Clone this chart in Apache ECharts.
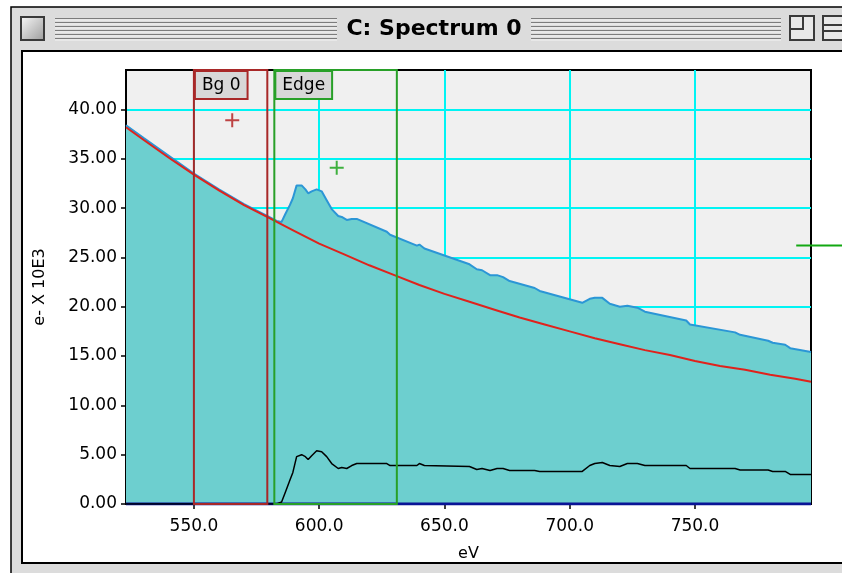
<!DOCTYPE html>
<html>
<head>
<meta charset="utf-8">
<script src="https://cdn.jsdelivr.net/npm/echarts@6/dist/echarts.min.js"></script>
<style>
    html, body {margin: 0; padding: 0; background: #fff;}
    #main {width: 842px; height: 573px;}
</style>
</head>
<body>
<div id="main"></div>
<script>
// energy loss, eV  /  counts in e- x 10E3
const bg_ev = [522.9, 530, 540, 550, 560, 570, 580, 590, 600, 610, 620, 630, 640, 650, 660, 670, 680, 690,
    700, 710, 720, 730, 740, 750, 760, 770, 780, 790, 796.3]
const bg_counts = [38.2, 36.9, 35.1, 33.4, 31.8, 30.3, 29.0, 27.7, 26.4, 25.3, 24.2, 23.2, 22.2, 21.3, 20.5, 19.7,
    18.9, 18.2, 17.5, 16.8, 16.2, 15.6, 15.1, 14.5, 14.0, 13.6, 13.1, 12.7, 12.4]

const spec_ev = [522.9, 530, 540, 550, 560, 570, 580, 583, 585, 586.5, 588.3, 589.5, 591, 593, 594.5, 595.6, 597,
    599, 601, 603, 605, 607.6, 609, 611, 613, 615, 627, 628.3, 639, 640, 642, 660, 662.9, 665, 668.2, 671, 673.4,
    676, 686, 688, 705, 708, 710, 713, 716, 720, 723, 727, 730, 746.5, 748, 766, 768, 779.2, 781, 786, 788, 796.3]
const spec_counts = [38.4, 37.1, 35.3, 33.5, 31.9, 30.4, 29.1, 28.7, 28.6, 29.4, 30.3, 31.0, 32.3, 32.3, 31.9, 31.5,
    31.7, 31.9, 31.7, 30.8, 29.9, 29.2, 29.1, 28.8, 28.9, 28.9, 27.6, 27.3, 26.2, 26.3, 25.9, 24.3, 23.8, 23.7, 23.2,
    23.2, 23.0, 22.6, 21.9, 21.6, 20.4, 20.8, 20.9, 20.9, 20.3, 20.0, 20.1, 19.9, 19.5, 18.6, 18.2, 17.4, 17.15,
    16.55, 16.35, 16.15, 15.8, 15.4]

const edge_ev = [522.9, 583, 585, 586.5, 588.3, 589.5, 591, 593, 594.5, 595.6, 597, 599, 601, 603, 605, 607.6, 609,
    611, 613, 615, 627, 628.3, 639, 640, 642, 660, 662.9, 665, 668.2, 671, 673.4, 676, 686, 688, 705, 708, 710, 713,
    716, 720, 723, 727, 730, 746.5, 748, 766, 768, 779.2, 781, 786, 788, 796.3]
const edge_counts = [0, 0, 0.2, 1.2, 2.4, 3.2, 4.8, 5.0, 4.8, 4.5, 4.9, 5.4, 5.3, 4.8, 4.1, 3.6, 3.7, 3.6, 3.9, 4.1,
    4.1, 3.9, 3.9, 4.1, 3.9, 3.8, 3.5, 3.6, 3.4, 3.6, 3.6, 3.4, 3.4, 3.3, 3.3, 3.9, 4.1, 4.2, 3.9, 3.8, 4.1, 4.1, 3.9,
    3.9, 3.6, 3.6, 3.45, 3.45, 3.3, 3.3, 3.0, 3.0]

const base_ev = [522.9, 796.3]
const base_counts = [0, 0]

const bg_window = [550.0, 579.3]
const edge_window = [582.1, 631.0]
const bg_cross = [565.3, 38.9]
const edge_cross = [607.0, 34.1]
const side_marker_ev = [790.4, 812.0]
const side_marker_count = 26.2

const x_ticks = [550, 600, 650, 700, 750]
const y_ticks = [0, 5, 10, 15, 20, 25, 30, 35, 40]
const x_range = [522.9, 796.3]
const y_range = [0, 44]

const zip = (xs, ys) => xs.map((x, i) => [x, ys[i]])

const FONT = 'DejaVu Sans'
const CROSS = 'path://M6,0h2v14h-2zM0,6h14v2h-14z'

// window frame of the old mac
const stripes = []
;[18.5, 22.5, 26.5, 30.5, 34.5, 38.5].forEach(y => {
    [[55, 337], [531, 781]].forEach(([a, b]) => {
        stripes.push({type: 'line', z: -10, shape: {x1: a, y1: y, x2: b, y2: y}, style: {stroke: '#7c7c7c', lineWidth: 1}})
        stripes.push({type: 'line', z: -10, shape: {x1: a, y1: y + 1.5, x2: b, y2: y + 1.5}, style: {stroke: '#f4f4f4', lineWidth: 1}})
    })
})

const chrome = [
    {type: 'rect', z: -12, shape: {x: 11, y: 7, width: 840, height: 580}, style: {fill: '#dcdcdc', stroke: '#000', lineWidth: 1.5}},
    {type: 'rect', z: -11, shape: {x: 22, y: 51, width: 830, height: 512}, style: {fill: '#fff', stroke: '#000', lineWidth: 2}},
    ...stripes,
    {type: 'rect', z: -10, shape: {x: 21, y: 17, width: 23, height: 23}, style: {
        fill: new echarts.graphic.LinearGradient(0, 0, 1, 1, [{offset: 0, color: '#fafafa'}, {offset: 1, color: '#9a9a9a'}]),
        stroke: '#3a3a3a', lineWidth: 2}},
    {type: 'rect', z: -10, shape: {x: 790, y: 16, width: 24, height: 24}, style: {fill: '#e8e8e8', stroke: '#3a3a3a', lineWidth: 2}},
    {type: 'polyline', z: -10, shape: {points: [[803, 16], [803, 29], [790, 29]]}, style: {stroke: '#3a3a3a', lineWidth: 2, fill: null}},
    {type: 'rect', z: -10, shape: {x: 823, y: 16, width: 24, height: 24}, style: {fill: '#e8e8e8', stroke: '#3a3a3a', lineWidth: 2}},
    {type: 'line', z: -10, shape: {x1: 823, y1: 25, x2: 847, y2: 25}, style: {stroke: '#3a3a3a', lineWidth: 2}},
    {type: 'line', z: -10, shape: {x1: 823, y1: 31, x2: 847, y2: 31}, style: {stroke: '#3a3a3a', lineWidth: 2}},
    {type: 'text', z: -9, x: 434, y: 29, style: {
        text: 'C: Spectrum 0', fill: '#000', font: 'bold 22px "DejaVu Sans"', align: 'center', verticalAlign: 'middle'}},
]

const window_style = (color) => ({
    itemStyle: {color: 'rgba(0,0,0,0)', borderColor: color, borderWidth: 2},
    label: {
        show: true,
        position: 'insideTopLeft',
        distance: 3,
        color: '#000',
        fontSize: 17,
        fontFamily: FONT,
        backgroundColor: '#d8d8d8',
        borderColor: color,
        borderWidth: 2,
        padding: [5, 6, 4, 6],
    },
})

const chart = echarts.init(document.getElementById('main'), null, {renderer: 'canvas'})

chart.setOption({
    animation: false,
    backgroundColor: '#fff',
    graphic: {elements: chrome},
    grid: {
        left: 126,
        right: 31,
        top: 70,
        bottom: 69,
        show: true,
        backgroundColor: '#f0f0f0',
        borderColor: '#000',
        borderWidth: 2,
    },
    xAxis: {
        type: 'value',
        min: x_range[0],
        max: x_range[1],
        name: 'eV',
        nameLocation: 'middle',
        nameGap: 42,
        nameTextStyle: {color: '#000', fontSize: 16, fontFamily: FONT},
        axisLine: {lineStyle: {color: '#000', width: 2}},
        axisTick: {length: 5, lineStyle: {color: '#000', width: 1.5}, customValues: x_ticks},
        axisLabel: {
            color: '#000', fontSize: 17, fontFamily: FONT, margin: 14,
            customValues: x_ticks,
            formatter: v => v.toFixed(1),
        },
        splitLine: {show: true, lineStyle: {color: '#00f4f4', width: 2}},
    },
    yAxis: {
        type: 'value',
        min: y_range[0],
        max: y_range[1],
        interval: 5,
        name: 'e- X 10E3',
        nameLocation: 'middle',
        nameGap: 78,
        nameTextStyle: {color: '#000', fontSize: 16, fontFamily: FONT},
        axisLine: {show: true, lineStyle: {color: '#000', width: 2}},
        axisTick: {show: true, length: 5, lineStyle: {color: '#000', width: 1.5}, customValues: y_ticks},
        axisLabel: {
            color: '#000', fontSize: 17, fontFamily: FONT, margin: 9,
            customValues: y_ticks,
            formatter: v => v.toFixed(2),
        },
        splitLine: {show: true, lineStyle: {color: '#00f4f4', width: 2}},
    },
    series: [
        {
            type: 'line',
            name: 'spectrum',
            data: zip(spec_ev, spec_counts),
            symbol: 'none',
            z: 2,
            lineStyle: {color: '#2b96d6', width: 2},
            areaStyle: {color: '#6dcfcf', opacity: 1},
        },
        {
            type: 'line',
            name: 'base',
            data: zip(base_ev, base_counts),
            symbol: 'none',
            z: 3,
            lineStyle: {color: '#0a1496', width: 3},
        },
        {
            type: 'line',
            name: 'background',
            data: zip(bg_ev, bg_counts),
            symbol: 'none',
            z: 4,
            lineStyle: {color: '#e0221c', width: 2},
        },
        {
            type: 'line',
            name: 'edge',
            data: zip(edge_ev, edge_counts),
            symbol: 'none',
            z: 5,
            lineStyle: {color: '#000', width: 1.5},
            markArea: {
                silent: true,
                z: 10,
                data: [
                    [{name: 'Bg 0', xAxis: bg_window[0], yAxis: y_range[0], ...window_style('#a82828')},
                        {xAxis: bg_window[1], yAxis: y_range[1]}],
                    [{name: 'Edge', xAxis: edge_window[0], yAxis: y_range[0], ...window_style('#28a028')},
                        {xAxis: edge_window[1], yAxis: y_range[1]}],
                ],
            },
        },
        {
            type: 'scatter',
            data: [bg_cross],
            symbol: CROSS,
            symbolSize: 14,
            z: 11,
            itemStyle: {color: '#b01818'},
        },
        {
            type: 'scatter',
            data: [edge_cross],
            symbol: CROSS,
            symbolSize: 14,
            z: 11,
            itemStyle: {color: '#12a012'},
        },
    ],
})

// level marker sticking out of the right side of the plot
const p0 = chart.convertToPixel({gridIndex: 0}, [side_marker_ev[0], side_marker_count])
const p1 = chart.convertToPixel({gridIndex: 0}, [side_marker_ev[1], side_marker_count])
chart.setOption({
    graphic: {elements: [...chrome, {
        type: 'line', z: 20,
        shape: {x1: p0[0], y1: p0[1], x2: p1[0] + 30, y2: p1[1]},
        style: {stroke: '#12a812', lineWidth: 2},
    }]},
})
</script>
</body>
</html>
